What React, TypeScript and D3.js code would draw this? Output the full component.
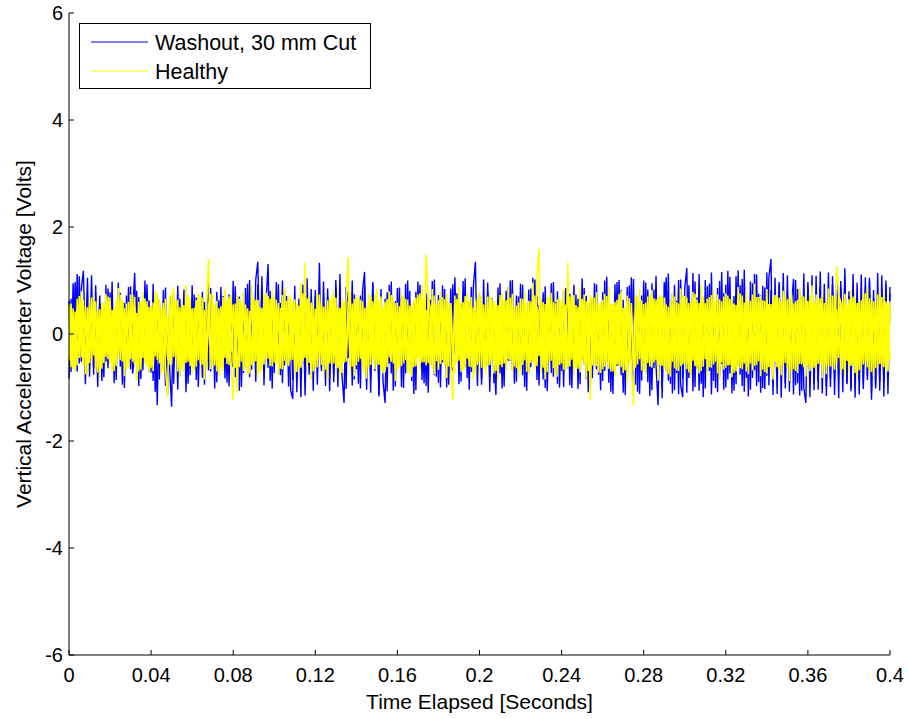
import React from "react";
import * as d3 from "d3";

// Sample interval (seconds) – signals are sampled every millisecond from 0 to 0.4 s
const sampleInterval = 0.001;

// Washout, 30 mm Cut – run A (Volts)
const washoutA: number[] = [
  0.62,-0.71,0.95,-0.38,1.12,-0.55,0.84,1.18,-0.22,1.05,-0.80,0.46,-0.63,0.91,-0.35,0.72,-0.88,0.30,-0.52,0.85,
  -0.47,0.98,-0.92,0.41,-0.26,0.77,-0.95,0.58,-0.41,0.88,-0.66,0.35,1.14,-0.58,0.69,-0.84,0.44,-0.30,0.93,-0.72,
  0.51,-0.88,0.37,-1.33,0.64,-0.49,0.82,-0.97,0.28,-0.61,-1.36,0.73,-0.44,0.90,-0.79,0.36,-0.58,0.81,-0.93,0.47,
  -0.39,0.74,-0.86,0.52,-0.33,0.79,-0.95,0.41,-0.68,0.86,-0.51,0.32,-0.90,0.63,-0.27,0.71,-0.83,0.49,-0.98,0.58,
  -0.62,0.89,-0.43,0.70,-0.99,0.37,-0.56,0.94,-0.81,0.46,-0.30,1.02,1.35,-0.64,0.83,-0.47,0.60,1.31,-0.88,0.42,
  -0.73,0.97,-0.35,0.58,-0.92,0.80,-0.48,0.34,-1.05,-1.21,0.66,-0.87,0.45,-1.18,0.92,-1.15,0.39,-0.76,0.84,-0.54,
  0.71,-0.40,1.33,-0.69,0.48,-0.97,0.85,-0.31,0.62,-0.90,1.01,-0.57,0.37,-0.78,-1.29,0.88,-0.45,0.59,-0.96,0.74,
  -0.66,0.43,-1.02,0.80,1.16,-0.71,0.52,-1.10,0.95,-0.38,0.67,-1.17,0.40,-0.89,-1.29,0.78,-0.55,0.98,-1.06,0.61,
  -0.49,0.87,-0.99,0.35,-0.74,1.00,-0.60,0.45,-1.12,0.79,-0.33,0.92,-0.86,0.56,-0.97,0.70,-0.42,0.99,-0.77,0.38,
  -0.91,0.66,-0.53,0.84,-1.00,0.47,-0.68,0.93,-0.36,0.76,-0.94,0.55,-0.45,1.04,-0.82,0.61,-0.71,0.88,1.35,-0.58,
  0.73,-0.95,0.40,-0.62,0.96,-0.83,0.52,-0.46,-1.14,0.87,-0.74,0.33,-0.98,0.81,-0.50,1.00,-0.67,0.44,-0.89,0.70,
  -0.55,0.92,-0.99,0.37,-0.72,0.85,-0.41,1.02,-0.86,0.54,-0.63,0.78,-1.01,0.46,-0.35,0.95,-0.80,0.60,-0.93,0.42,
  -0.69,0.81,-0.47,0.90,-0.96,0.35,-0.58,0.74,-1.03,0.63,-0.38,0.86,-0.84,0.50,-0.99,0.68,-0.44,0.93,-0.76,0.39,
  -0.88,1.00,-0.52,0.64,-1.08,0.45,-0.71,0.97,-0.60,0.82,-1.10,0.36,-0.79,0.91,-0.48,1.03,-0.95,0.57,-1.12,0.72,
  -0.65,0.96,-0.90,0.49,-1.05,0.83,-0.58,-1.33,0.70,-0.99,0.44,1.06,-0.87,0.62,-1.11,0.92,-0.73,1.01,-0.95,-1.18,
  0.85,1.23,-0.82,0.51,-1.07,0.98,-0.64,1.12,-0.93,0.40,-1.02,0.89,-0.69,1.15,-0.88,0.57,-1.09,0.99,-0.56,0.76,
  -1.00,1.18,-0.74,0.63,-1.06,1.08,-0.59,0.91,-0.97,1.20,-0.82,0.46,-1.04,0.95,-0.68,1.11,-0.90,0.72,-1.01,0.87,
  -0.78,1.06,1.40,-0.85,0.60,-1.12,0.97,-0.66,1.14,-0.93,0.79,-1.08,0.53,1.03,-0.96,0.84,-1.15,0.68,-1.00,-1.29,
  0.90,-0.77,1.10,-1.05,0.58,-0.89,1.17,-0.71,0.94,-1.16,0.65,-0.99,1.08,-0.84,0.77,-1.20,0.99,-0.62,1.23,-0.92,
  0.71,-1.07,1.12,-0.80,0.96,-1.13,0.54,-0.94,1.06,-0.86,1.00,-1.23,0.82,-1.02,0.69,-0.90,1.10,-1.17,0.93,-0.75,
  0.88,
];

// Washout, 30 mm Cut – run B (Volts)
const washoutB: number[] = [
  -0.83,0.66,-0.41,0.97,-0.70,1.08,-0.52,0.31,-0.94,0.60,-0.37,1.10,-0.76,0.45,-0.99,0.58,0.26,-0.81,0.92,-0.64,
  0.78,-0.50,0.39,-0.86,0.96,-0.61,0.47,-1.01,0.72,-0.33,0.89,-0.74,-0.42,0.81,-0.97,0.55,-0.68,1.00,-0.46,0.63,
  -0.72,0.94,-1.08,0.59,-0.85,0.38,-0.63,0.87,-1.12,0.44,0.71,-0.93,0.52,-1.04,0.66,-0.40,0.83,-1.09,0.49,-0.77,
  0.91,-0.58,0.68,-0.99,0.45,-0.82,0.60,-0.36,0.97,-0.70,0.53,-1.02,0.79,-0.47,0.88,-0.61,0.42,-0.91,0.74,-0.55,
  0.99,-0.81,0.62,-1.06,0.50,-0.73,0.86,-0.44,1.01,-0.67,0.57,-0.89,0.92,-0.52,1.08,-0.96,0.40,-0.63,0.81,-1.02,
  0.58,-0.49,0.93,-0.77,1.00,-0.59,0.71,-0.98,0.44,-0.86,0.90,-1.09,0.66,-0.55,0.79,-0.90,1.04,-0.43,0.60,-1.06,
  0.82,-0.95,0.57,-0.64,0.98,-0.48,0.69,-1.07,0.41,-0.75,0.88,-0.99,1.12,-0.62,0.51,-1.03,0.79,-0.56,1.00,-0.85,
  0.47,-0.93,0.72,-0.59,0.90,-1.04,0.35,-0.80,0.97,-0.69,0.55,-1.13,0.84,-0.46,0.66,-1.07,0.92,-0.74,0.59,-0.98,
  0.86,-0.53,0.70,-1.01,0.94,-0.45,0.81,-0.88,0.57,-1.05,0.98,-0.63,0.49,-0.92,0.76,-1.10,0.64,-0.58,1.02,-0.80,
  0.73,-1.00,0.91,-0.51,0.62,-0.95,0.85,-0.68,1.06,-0.43,0.74,-0.89,0.99,-0.61,0.53,-1.04,0.88,-0.72,0.45,-0.97,
  0.60,-0.84,1.02,-0.56,0.79,-1.08,0.67,-0.92,0.48,-0.71,0.95,-1.02,0.58,-0.66,0.87,-0.50,1.01,-0.93,0.72,-0.60,
  0.94,-0.77,0.54,-1.06,0.83,-0.62,1.05,-0.49,0.70,-0.96,0.61,-0.85,0.89,-1.07,0.47,-0.73,0.97,-0.58,0.80,-1.00,
  0.52,-0.99,0.86,-0.64,0.75,-1.01,0.92,-0.48,0.66,-0.94,1.04,-0.57,0.71,-1.09,0.59,-0.82,0.95,-0.66,0.48,-1.05,
  0.78,-0.69,1.07,-0.91,0.56,-1.12,0.93,-0.60,1.01,-0.77,0.64,-1.14,0.88,-0.52,1.06,-0.99,0.73,-1.08,0.61,-0.87,
  1.00,-0.72,0.83,-1.16,0.95,-0.64,1.09,-0.81,0.58,-1.20,0.97,-0.69,1.13,-0.93,0.76,-1.05,0.62,-1.12,1.02,-0.83,
  0.69,-1.10,0.91,-0.76,1.14,-0.99,0.68,-1.06,0.83,-1.18,1.01,-0.72,0.94,-1.13,0.59,-1.01,0.86,-0.79,1.16,-1.04,
  0.92,-0.85,1.07,-1.11,0.71,-0.94,1.19,-0.76,1.03,-1.08,0.64,-1.17,0.98,-0.82,1.12,-0.97,0.75,-1.10,0.90,-1.03,
  1.15,-0.96,0.82,-1.14,1.05,-0.71,0.93,-1.19,0.77,-1.02,1.10,-0.88,0.67,-1.13,1.01,-0.92,0.80,-1.06,1.13,-0.81,
  0.97,-1.18,0.74,-0.93,1.09,-1.04,0.86,-1.11,0.69,-0.98,1.15,-0.83,0.92,-1.14,1.03,-0.75,0.88,-1.09,1.06,-0.94,
  0.80,-1.01,0.95,-1.19,0.73,-0.87,1.11,-1.03,0.90,-0.79,1.05,-1.10,0.68,-0.97,1.14,-1.06,0.83,-0.91,1.00,-1.12,
  0.76,
];

// Healthy – run A (Volts)
const healthyA: number[] = [
  0.55,-0.62,0.48,-0.70,0.66,-0.45,0.80,-0.58,0.52,-0.77,0.63,-0.50,0.71,-0.66,0.44,-0.83,0.59,-0.54,0.75,-0.47,
  0.68,-0.72,0.51,-0.60,0.86,-0.49,0.62,-0.79,0.57,-0.64,0.74,-0.52,0.69,-0.88,0.46,-0.67,0.78,-0.55,0.61,-0.73,
  0.53,-0.69,0.82,-0.48,0.65,-0.76,0.50,-0.63,-1.18,0.72,-0.57,0.88,-0.46,0.64,-0.81,0.55,-0.70,0.93,-0.52,0.67,
  -0.75,0.49,-0.61,0.77,-0.54,0.68,-0.85,0.58,1.40,-0.66,0.73,-0.50,0.62,-0.78,0.47,-0.69,0.84,-0.56,0.70,-0.63,
  -1.23,0.57,-1.10,0.66,-0.52,0.79,-0.64,0.48,-0.74,0.90,-0.55,0.63,-0.81,0.51,-0.68,0.76,-0.46,0.71,-0.60,0.83,
  -0.53,0.64,-0.77,0.49,-0.66,0.87,-0.58,0.72,-0.49,0.61,-0.80,0.56,-0.67,0.95,-0.51,1.33,-0.62,0.70,-0.86,0.54,
  -0.65,0.78,-0.47,0.60,-0.73,0.52,-0.84,0.67,-0.56,0.81,-0.61,0.50,-0.76,0.69,-0.54,0.62,1.44,-0.68,0.57,-0.79,
  0.73,-0.52,0.64,-0.70,0.49,-0.83,0.76,-0.58,0.61,-0.66,0.85,-0.48,0.70,-0.74,0.55,-0.62,0.80,-0.51,0.68,-0.88,
  0.59,-0.64,0.77,-0.55,0.66,-0.72,0.50,-0.80,0.63,-0.57,0.74,-0.69,0.92,-0.53,1.48,0.71,-0.60,0.84,-0.75,0.56,
  -0.67,0.79,-0.49,0.65,-0.82,0.58,-0.63,-1.23,0.72,-0.54,0.87,-0.71,0.60,-0.66,0.76,-0.50,0.69,-0.85,0.62,-0.58,
  0.81,-0.63,0.55,-0.77,0.70,-0.52,0.66,-0.74,0.59,-0.87,0.73,-0.56,0.64,-0.68,0.89,-0.49,0.75,-0.61,0.53,-0.79,
  0.67,-0.58,0.80,-0.71,0.62,-0.54,0.96,-0.66,1.05,1.59,-0.73,0.60,-0.85,0.70,-0.52,0.77,-0.64,0.58,-0.80,0.68,
  -0.55,0.83,-0.69,1.33,-0.61,0.72,-0.77,0.54,-0.65,0.86,-0.50,0.74,-0.83,0.63,-1.23,0.69,-0.58,0.78,-0.72,0.60,
  -0.66,0.75,-0.54,0.88,-0.70,0.57,-0.79,0.64,-0.60,0.81,-0.73,0.52,-0.90,0.67,-0.62,-1.33,0.73,-0.57,0.84,-0.68,
  0.56,-0.76,0.70,-0.61,0.82,-0.53,0.65,-0.87,0.74,-0.59,0.68,-0.72,0.51,-0.80,0.77,-0.64,0.60,-0.69,0.85,-0.55,
  0.71,-0.66,0.58,-0.82,0.79,-0.57,0.64,-0.74,0.92,-0.61,0.55,-0.78,0.69,-0.63,0.83,-0.52,0.74,-0.86,0.61,-0.67,
  0.76,-0.59,0.66,-0.81,0.57,-0.70,0.88,-0.64,0.72,-0.55,0.80,-0.75,0.62,-0.68,0.94,-0.58,0.69,-0.79,0.63,-0.71,
  0.84,-0.62,0.56,-0.85,0.73,-0.60,0.68,-0.77,0.81,-0.54,0.65,-0.88,0.77,-0.66,0.59,-0.73,0.86,-0.57,0.70,-0.80,
  0.62,-0.69,0.91,-0.63,0.74,-0.56,0.67,-0.82,0.58,-0.75,0.85,-0.61,0.72,-0.67,1.27,0.80,-0.71,0.64,-0.78,0.57,
  -0.72,0.83,-0.58,0.69,-0.84,0.61,-0.66,0.76,-0.53,0.87,-0.70,0.63,-0.79,0.58,-0.64,0.81,-0.60,0.74,-0.68,0.55,
  -0.48,
];

// Healthy – run B (Volts)
const healthyB: number[] = [
  -0.48,0.57,-0.66,0.42,-0.59,0.71,-0.44,0.63,-0.75,0.50,-0.54,0.68,-0.40,0.61,-0.72,0.46,-0.65,0.58,-0.43,0.70,
  -0.56,0.45,-0.69,0.64,-0.41,0.74,-0.52,0.48,-0.67,0.60,-0.47,0.73,-0.58,0.39,-0.70,0.62,-0.45,0.67,-0.61,0.51,
  -0.64,0.59,-0.42,0.76,-0.55,0.49,-0.71,0.66,-0.44,-0.57,0.78,-0.43,0.62,-0.70,0.50,-0.65,0.47,-0.54,0.73,-0.60,
  0.46,-0.68,0.63,-0.49,0.72,-0.57,0.41,-0.66,0.52,0.75,-0.60,0.55,-0.70,0.48,-0.64,0.69,-0.45,0.62,-0.58,0.74,
  -0.52,-0.63,0.71,-0.47,0.60,-0.69,0.55,-0.74,0.43,-0.59,0.68,-0.51,0.64,-0.72,0.49,-0.57,0.77,-0.46,0.66,-0.61,
  0.70,-0.44,0.58,-0.65,0.73,-0.50,0.62,-0.56,0.69,-0.48,0.65,-0.71,0.53,-0.60,0.76,-0.45,0.67,-0.54,0.59,-0.70,
  0.47,-0.62,0.74,-0.58,0.51,-0.67,0.63,-0.49,0.72,-0.55,0.68,-0.64,0.45,-0.73,0.60,-0.52,0.57,0.78,-0.61,0.66,
  -0.59,0.69,-0.46,0.61,-0.75,0.53,-0.63,0.70,-0.48,0.74,-0.57,0.62,-0.68,0.50,-0.71,0.65,-0.44,0.73,-0.55,0.58,
  -0.67,0.52,-0.60,0.71,-0.49,0.64,-0.74,0.57,-0.62,0.68,-0.45,0.76,-0.53,0.66,-0.59,0.70,0.48,-0.65,0.72,-0.51,
  0.63,-0.56,0.69,-0.47,0.75,-0.61,0.54,-0.60,-0.73,0.66,-0.50,0.58,-0.68,0.71,-0.46,0.64,-0.62,0.49,-0.75,0.67,
  -0.52,0.70,-0.65,0.57,-0.60,0.73,-0.48,0.62,-0.69,0.54,-0.58,0.77,-0.55,0.63,-0.47,0.68,-0.72,0.51,-0.64,0.59,
  -0.70,0.66,-0.49,0.58,-0.75,0.61,-0.53,0.72,-0.60,0.45,0.67,-0.63,0.56,-0.71,0.69,-0.50,0.60,-0.74,0.65,-0.54,
  0.62,-0.67,0.55,-0.59,0.70,-0.48,0.73,-0.64,0.51,-0.72,0.66,-0.57,0.61,-0.69,0.74,-0.52,0.68,-0.60,0.57,-0.73,
  0.64,-0.50,0.71,-0.65,0.55,-0.70,0.60,-0.56,0.75,-0.62,0.49,-0.68,0.72,-0.53,0.58,-0.66,-0.61,0.70,-0.47,0.63,
  -0.71,0.59,-0.54,0.74,-0.63,0.67,-0.49,0.69,-0.58,0.72,-0.66,0.55,-0.75,0.62,-0.52,0.70,-0.68,0.57,-0.60,0.73,
  -0.55,0.68,-0.72,0.61,-0.50,0.75,-0.64,0.58,-0.69,0.71,-0.47,0.66,-0.62,0.73,-0.57,0.60,-0.74,0.65,-0.53,0.70,
  -0.63,0.72,-0.58,0.67,-0.73,0.54,-0.61,0.76,-0.66,0.59,-0.70,0.63,-0.55,0.74,-0.60,0.69,-0.51,0.71,-0.67,0.62,
  -0.74,0.56,-0.65,0.70,-0.52,0.73,-0.68,0.61,-0.59,0.75,-0.63,0.66,-0.71,0.57,-0.69,0.64,-0.56,0.72,-0.62,0.68,
  -0.57,0.71,-0.64,0.59,-0.70,0.66,-0.53,0.74,-0.67,0.62,-0.58,0.73,-0.61,0.69,-0.55,0.72,0.60,-0.66,0.75,-0.50,
  0.65,-0.60,0.70,-0.73,0.58,-0.68,0.63,-0.57,0.76,-0.52,0.67,-0.71,0.61,-0.64,0.74,-0.55,0.69,-0.62,0.56,-0.70,
  0.61,
];

// Healthy – run C (Volts)
const healthyC: number[] = [
  0.42,-0.51,0.36,-0.58,0.47,-0.33,0.61,-0.44,0.39,-0.55,0.50,-0.37,0.57,-0.46,0.34,-0.62,0.45,-0.40,0.53,-0.35,
  0.59,-0.43,0.38,-0.54,0.49,-0.31,0.63,-0.48,0.41,-0.57,0.35,-0.45,0.52,-0.39,0.60,-0.50,0.33,-0.56,0.46,-0.42,
  0.37,-0.60,0.51,-0.36,0.44,-0.53,0.58,-0.40,0.32,-0.49,0.55,-0.34,0.47,-0.61,0.40,-0.38,0.54,-0.46,0.36,-0.52,
  0.48,-0.35,0.62,-0.43,0.39,-0.57,0.45,-0.32,0.56,-0.50,0.41,-0.59,0.34,-0.44,0.52,-0.37,0.60,-0.47,0.43,-0.33,
  0.55,-0.48,0.35,-0.62,0.50,-0.39,0.46,-0.54,0.31,-0.58,0.44,-0.36,0.61,-0.42,0.38,-0.51,0.57,-0.34,0.49,-0.45,
  0.40,-0.56,0.47,-0.33,0.59,-0.44,0.36,-0.60,0.53,-0.38,0.45,-0.52,0.34,-0.63,0.48,-0.41,0.56,-0.35,0.42,-0.50,
  0.33,-0.47,0.58,-0.40,0.51,-0.36,0.44,-0.55,0.62,-0.42,0.37,-0.59,0.49,-0.34,0.54,-0.45,0.39,-0.61,0.46,-0.38,
  0.57,-0.41,0.35,-0.53,0.48,-0.62,0.40,-0.37,0.55,-0.46,0.32,-0.58,0.51,-0.43,0.60,-0.35,0.47,-0.52,0.38,-0.49,
  0.44,-0.57,0.61,-0.36,0.39,-0.50,0.53,-0.44,0.34,-0.60,0.49,-0.41,0.56,-0.33,0.45,-0.54,0.37,-0.48,0.62,-0.40,
  0.35,-0.52,0.46,-0.59,0.41,-0.34,0.58,-0.47,0.50,-0.38,0.63,-0.43,0.36,-0.55,0.44,-0.61,0.52,-0.37,0.40,-0.56,
  0.60,-0.39,0.43,-0.51,0.34,-0.58,0.47,-0.42,0.55,-0.35,0.39,-0.62,0.50,-0.45,0.57,-0.33,0.46,-0.53,0.41,-0.48,
  0.38,-0.54,0.59,-0.37,0.45,-0.49,0.33,-0.60,0.52,-0.41,0.48,-0.56,0.35,-0.44,0.61,-0.39,0.54,-0.46,0.37,-0.58,
  0.51,-0.42,0.36,-0.63,0.49,-0.35,0.57,-0.45,0.40,-0.53,0.62,-0.38,0.44,-0.50,0.33,-0.59,0.47,-0.41,0.55,-0.36,
  0.46,-0.61,0.39,-0.48,0.56,-0.34,0.43,-0.57,0.50,-0.40,0.35,-0.52,0.60,-0.44,0.38,-0.55,0.48,-0.33,0.58,-0.47,
  0.34,-0.50,0.54,-0.39,0.61,-0.46,0.37,-0.53,0.45,-0.59,0.52,-0.35,0.40,-0.62,0.56,-0.43,0.33,-0.49,0.47,-0.57,
  0.53,-0.37,0.48,-0.55,0.36,-0.60,0.51,-0.42,0.39,-0.47,0.58,-0.34,0.45,-0.51,0.62,-0.40,0.35,-0.56,0.49,-0.44,
  0.41,-0.58,0.34,-0.45,0.55,-0.38,0.60,-0.49,0.36,-0.54,0.43,-0.61,0.50,-0.37,0.47,-0.52,0.59,-0.35,0.44,-0.48,
  0.57,-0.43,0.50,-0.35,0.42,-0.62,0.39,-0.51,0.58,-0.46,0.34,-0.55,0.48,-0.40,0.61,-0.38,0.45,-0.53,0.36,-0.59,
  0.49,-0.36,0.56,-0.52,0.33,-0.47,0.62,-0.41,0.44,-0.58,0.51,-0.39,0.37,-0.54,0.46,-0.45,0.59,-0.34,0.52,-0.50,
  0.38,-0.55,0.45,-0.60,0.53,-0.37,0.42,-0.48,0.35,-0.62,0.57,-0.44,0.50,-0.33,0.40,-0.56,0.47,-0.51,0.61,-0.39,
  0.54,
];

const xTicks: number[] = [0, 0.04, 0.08, 0.12, 0.16, 0.2, 0.24, 0.28, 0.32, 0.36, 0.4];
const xTickLabels: string[] = ["0", "0.04", "0.08", "0.12", "0.16", "0.2", "0.24", "0.28", "0.32", "0.36", "0.4"];
const yTicks: number[] = [-6, -4, -2, 0, 2, 4, 6];
const yTickLabels: string[] = ["-6", "-4", "-2", "0", "2", "4", "6"];

const seriesNames: string[] = ["Washout, 30 mm Cut", "Healthy"];
const seriesColors: string[] = ["#0000ff", "#ffff00"];
const washoutRuns: number[][] = [washoutA, washoutB];
const healthyRuns: number[][] = [healthyA, healthyB, healthyC];

const W = 908;
const H = 719;
const M = { left: 69, right: 890, top: 13, bottom: 655 };
const FONT = "'Liberation Sans', Arial, sans-serif";

export default function App() {
  const x = d3.scaleLinear().domain([0, 0.4]).range([M.left, M.right]);
  const y = d3.scaleLinear().domain([-6, 6]).range([M.bottom, M.top]);
  const line = d3
    .line<number>()
    .x((_, i) => x(i * sampleInterval))
    .y((d) => y(d));

  const tickLen = 5;
  return (
    <svg
      width={W}
      height={H}
      style={{ position: "absolute", left: 0, top: 0, background: "#fff" }}
      fontFamily={FONT}
    >
      <rect x={0} y={0} width={W} height={H} fill="#fff" />
      {washoutRuns.map((r, k) => (
        <path key={"w" + k} d={line(r) || ""} fill="none" stroke={seriesColors[0]} strokeWidth={1.4} />
      ))}
      {healthyRuns.map((r, k) => (
        <path key={"h" + k} d={line(r) || ""} fill="none" stroke={seriesColors[1]} strokeWidth={1.6} />
      ))}

      {/* axes */}
      <line x1={M.left} x2={M.left} y1={M.top} y2={M.bottom} stroke="#000" strokeWidth={1} />
      <line x1={M.left} x2={M.right} y1={M.bottom} y2={M.bottom} stroke="#000" strokeWidth={1} />
      {xTicks.map((t, i) => (
        <g key={"xt" + i}>
          <line x1={x(t)} x2={x(t)} y1={M.bottom} y2={M.bottom - tickLen} stroke="#000" />
          <text x={x(t)} y={682} textAnchor="middle" fontSize={20} fill="#000">
            {xTickLabels[i]}
          </text>
        </g>
      ))}
      {yTicks.map((t, i) => (
        <g key={"yt" + i}>
          <line x1={M.left} x2={M.left + tickLen} y1={y(t)} y2={y(t)} stroke="#000" />
          <text x={63} y={y(t)} dy="0.35em" textAnchor="end" fontSize={20} fill="#000">
            {yTickLabels[i]}
          </text>
        </g>
      ))}
      <text x={(M.left + M.right) / 2} y={709} textAnchor="middle" fontSize={21} fill="#000">
        Time Elapsed [Seconds]
      </text>
      <text
        transform={`translate(31, ${(M.top + M.bottom) / 2}) rotate(-90)`}
        textAnchor="middle"
        fontSize={21}
        fill="#000"
      >
        Vertical Accelerometer Voltage [Volts]
      </text>

      {/* legend */}
      <rect x={79.5} y={23.5} width={291} height={65} fill="#fff" stroke="#000" strokeWidth={1} />
      {seriesNames.map((n, i) => (
        <g key={"lg" + i}>
          <line x1={91} x2={148} y1={42 + i * 29} y2={42 + i * 29} stroke={seriesColors[i]} strokeWidth={1} />
          <text x={155} y={42 + i * 29} dy="0.35em" fontSize={21.5} fill="#000">
            {n}
          </text>
        </g>
      ))}
    </svg>
  );
}
